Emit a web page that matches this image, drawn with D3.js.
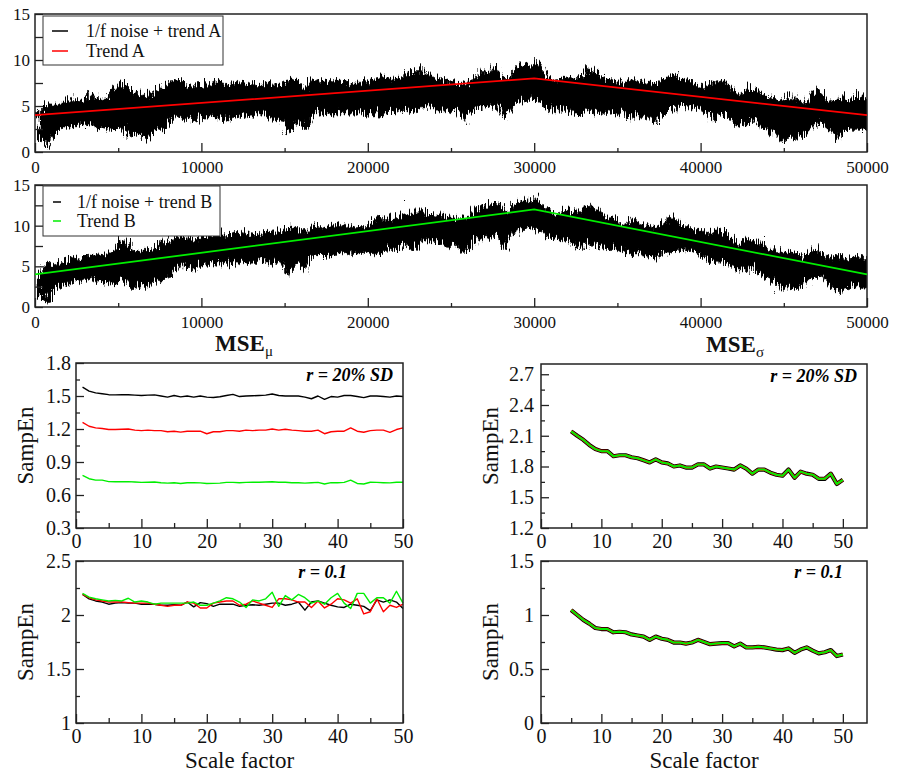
<!DOCTYPE html>
<html>
<head>
<meta charset="utf-8">
<script src="https://cdnjs.cloudflare.com/ajax/libs/d3/7.8.5/d3.min.js"></script>
<style>
  body { margin: 0; background: #fff; }
  svg text { font-family: "Liberation Serif", "Times New Roman", serif; }
</style>
</head>
<body>
<svg id="chart" width="900" height="773"></svg>
<script>
// ---- data ----

// trend breakpoints (time index, value)
var trendT = [0, 30000, 50000];
var trendAVals = [4, 8, 4];
var trendBVals = [4, 12, 4];

// 1/f noise, drawn as its envelope around the trend, sampled every 500 points
var noiseT = d3.range(0, 50001, 500);
var noiseHi = [
  0.8, 1.6, 1.5, 1.6, 2.1, 1.7, 2.2, 1.9, 1.9, 2.5,
  3.3, 2.4, 1.9, 1.7, 2.0, 2.5, 2.8, 3.1, 2.3, 2.4,
  2.3, 2.8, 2.5, 2.3, 2.6, 2.2, 1.9, 2.0, 2.0, 1.7,
  2.2, 2.3, 1.3, 2.2, 1.7, 1.9, 2.0, 1.5, 1.3, 1.2,
  1.7, 2.0, 1.6, 1.7, 1.8, 2.3, 2.2, 1.6, 1.4, 0.9,
  0.6, 0.4, 0.7, 1.9, 1.7, 2.0, 0.6, 1.5, 1.8, 1.9,
  2.0, 0.8, 0.4, 1.0, 1.0, 1.2, 2.1, 1.8, 1.2, 1.1,
  0.8, 1.5, 1.4, 1.3, 1.2, 2.0, 2.7, 2.2, 2.0, 1.7,
  1.6, 2.1, 2.4, 1.9, 1.0, 1.6, 1.9, 1.4, 1.2, 1.1,
  1.4, 1.3, 0.9, 2.4, 2.3, 1.5, 2.2, 1.7, 2.2, 2.5, 1.8
];
var noiseLo = [
  -2.2, -3.1, -1.6, -1.1, -1.0, -1.0, -0.9, -1.5, -1.4, -1.9,
  -1.4, -2.7, -2.4, -3.2, -2.0, -2.3, -1.2, -0.9, -1.2, -1.4,
  -1.0, -1.0, -1.5, -1.5, -1.4, -1.3, -1.5, -1.4, -2.0, -1.9,
  -3.6, -2.2, -3.2, -1.6, -1.7, -2.0, -1.8, -1.9, -2.0, -2.0,
  -2.3, -2.4, -1.9, -2.1, -1.8, -2.4, -1.6, -1.8, -2.1, -2.5,
  -2.4, -3.7, -2.9, -2.2, -2.3, -2.0, -3.7, -2.2, -1.9, -1.6,
  -2.0, -2.8, -2.9, -2.6, -2.9, -3.3, -2.5, -2.6, -2.6, -2.4,
  -2.4, -2.9, -2.4, -2.5, -2.9, -1.9, -1.5, -0.8, -0.9, -1.0,
  -1.3, -2.1, -1.2, -1.7, -2.3, -2.0, -1.6, -2.2, -2.6, -3.6,
  -3.0, -3.1, -2.4, -1.4, -0.8, -1.9, -2.7, -1.7, -1.3, -1.2, -1.3
];

// MSE_mu, scale factors 1..50
var scaleMu = d3.range(1, 51);
var muBlack20 = [
  1.58, 1.545, 1.528, 1.52, 1.512, 1.51, 1.512, 1.512, 1.508, 1.505,
  1.508, 1.51, 1.5, 1.49, 1.505, 1.492, 1.5, 1.49, 1.5, 1.49,
  1.487, 1.493, 1.505, 1.515, 1.495, 1.5, 1.502, 1.505, 1.508, 1.518,
  1.505, 1.5, 1.5, 1.5, 1.49, 1.475, 1.5, 1.47, 1.495, 1.49,
  1.505, 1.505, 1.495, 1.485, 1.5, 1.5, 1.495, 1.49, 1.5, 1.495
];
var muRed20 = [
  1.26, 1.225, 1.21, 1.205, 1.195, 1.195, 1.198, 1.2, 1.19, 1.185,
  1.19, 1.185, 1.185, 1.175, 1.18, 1.172, 1.18, 1.18, 1.18, 1.157,
  1.175, 1.175, 1.185, 1.185, 1.18, 1.19, 1.185, 1.19, 1.19, 1.2,
  1.19, 1.198, 1.19, 1.185, 1.18, 1.18, 1.19, 1.157, 1.175, 1.18,
  1.18, 1.21, 1.18, 1.17, 1.185, 1.19, 1.19, 1.17, 1.195, 1.21
];
var muGreen20 = [
  0.778, 0.748, 0.735, 0.735, 0.722, 0.72, 0.72, 0.722, 0.718, 0.715,
  0.716, 0.718, 0.712, 0.708, 0.712, 0.705, 0.712, 0.712, 0.71, 0.704,
  0.706, 0.708, 0.715, 0.715, 0.712, 0.715, 0.716, 0.716, 0.718, 0.72,
  0.716, 0.716, 0.712, 0.712, 0.708, 0.712, 0.715, 0.7, 0.712, 0.712,
  0.715, 0.735, 0.705, 0.7, 0.716, 0.715, 0.712, 0.71, 0.716, 0.716
];
var muBlack01 = [
  2.19, 2.15, 2.13, 2.12, 2.10, 2.11, 2.115, 2.11, 2.11, 2.10,
  2.10, 2.10, 2.09, 2.09, 2.095, 2.09, 2.12, 2.075, 2.115, 2.105,
  2.08, 2.10, 2.10, 2.10, 2.08, 2.09, 2.095, 2.09, 2.10, 2.11,
  2.11, 2.09, 2.10, 2.12, 2.045, 2.12, 2.13, 2.11, 2.09, 2.075,
  2.07, 2.10, 2.09, 2.08, 2.04, 2.14, 2.12, 2.14, 2.12, 2.06
];
var muRed01 = [
  2.19, 2.16, 2.14, 2.13, 2.12, 2.12, 2.12, 2.115, 2.11, 2.11,
  2.11, 2.10, 2.09, 2.08, 2.09, 2.09, 2.12, 2.11, 2.065, 2.065,
  2.11, 2.12, 2.13, 2.13, 2.09, 2.10, 2.13, 2.11, 2.09, 2.07,
  2.15, 2.15, 2.14, 2.12, 2.12, 2.07, 2.13, 2.065, 2.10, 2.15,
  2.14, 2.11, 2.15, 2.01, 2.03, 2.15, 2.03, 2.09, 2.07, 2.10
];
var muGreen01 = [
  2.20, 2.165, 2.15, 2.14, 2.13, 2.135, 2.13, 2.155, 2.12, 2.13,
  2.12, 2.10, 2.11, 2.11, 2.11, 2.11, 2.11, 2.12, 2.09, 2.09,
  2.11, 2.13, 2.16, 2.15, 2.12, 2.07, 2.14, 2.13, 2.15, 2.21,
  2.08, 2.18, 2.14, 2.19, 2.16, 2.11, 2.13, 2.10, 2.16, 2.20,
  2.11, 2.06, 2.20, 2.20, 2.11, 2.16, 2.16, 2.11, 2.22, 2.11
];

// MSE_sigma, scale factors 5..50 (the three curves lie on top of each other)
var scaleSig = d3.range(5, 51);
var sig20 = [
  2.143, 2.10, 2.06, 2.01, 1.97, 1.95, 1.95, 1.90, 1.91, 1.91,
  1.89, 1.88, 1.86, 1.84, 1.87, 1.84, 1.83, 1.80, 1.81, 1.79,
  1.79, 1.82, 1.82, 1.78, 1.80, 1.79, 1.78, 1.77, 1.81, 1.78,
  1.73, 1.77, 1.77, 1.74, 1.72, 1.71, 1.77, 1.69, 1.75, 1.73,
  1.72, 1.68, 1.68, 1.73, 1.63, 1.67
];
var sig01 = [
  1.046, 1.0, 0.955, 0.92, 0.88, 0.87, 0.87, 0.84, 0.845, 0.84,
  0.82, 0.81, 0.80, 0.77, 0.80, 0.78, 0.77, 0.745, 0.745, 0.735,
  0.745, 0.77, 0.75, 0.73, 0.735, 0.74, 0.74, 0.71, 0.735, 0.70,
  0.70, 0.705, 0.70, 0.69, 0.68, 0.675, 0.69, 0.65, 0.68, 0.70,
  0.67, 0.645, 0.655, 0.675, 0.62, 0.635
];

// tick labels
var xTicksSignal = [0, 10000, 20000, 30000, 40000, 50000];
var yTicksSignal = [0, 5, 10, 15];
var xTicksScale = [0, 10, 20, 30, 40, 50];
var yTicksMu20 = [0.3, 0.6, 0.9, 1.2, 1.5, 1.8];
var yTicksMu01 = [1, 1.5, 2, 2.5];
var yTicksSig20 = [1.2, 1.5, 1.8, 2.1, 2.4, 2.7];
var yTicksSig01 = [0, 0.5, 1, 1.5];

var RED = "#ff0000", GREEN = "#00ee00";
var FONT = '"Liberation Serif", "Times New Roman", serif';

var svg = d3.select("#chart");

// rough edge texture for the dense noise band (purely visual)
var defs = svg.append("defs");
var flt = defs.append("filter").attr("id", "grain")
  .attr("filterUnits", "userSpaceOnUse")
  .attr("x", 0).attr("y", 0).attr("width", 900).attr("height", 330);
flt.append("feTurbulence").attr("type", "turbulence")
  .attr("baseFrequency", "0.7 0.04").attr("numOctaves", 2).attr("seed", 3)
  .attr("result", "tex");
flt.append("feDisplacementMap").attr("in", "SourceGraphic").attr("in2", "tex")
  .attr("scale", 16).attr("xChannelSelector", "R").attr("yChannelSelector", "G");

function drawPanel(c) {
  var x = d3.scaleLinear().domain(c.xDomain).range([c.left, c.right]);
  var y = d3.scaleLinear().domain(c.yDomain).range([c.bottom, c.top]);
  var g = svg.append("g");
  var ax = g.append("g").attr("class", "axes");

  ax.append("g").attr("transform", "translate(0," + c.bottom + ")")
    .call(d3.axisBottom(x).tickValues(c.xMinor).tickSize(-c.xMinorLen).tickFormat(""));
  ax.append("g").attr("transform", "translate(0," + c.bottom + ")")
    .call(d3.axisBottom(x).tickValues(c.xTicks).tickSize(-c.xMajorLen)
      .tickPadding(c.xPad).tickFormat(function(d) { return String(d); }));
  ax.append("g").attr("transform", "translate(" + c.left + ",0)")
    .call(d3.axisLeft(y).tickValues(c.yMinor).tickSize(-c.yMinorLen).tickFormat(""));
  ax.append("g").attr("transform", "translate(" + c.left + ",0)")
    .call(d3.axisLeft(y).tickValues(c.yTicks).tickSize(-c.yMajorLen)
      .tickPadding(c.yPad).tickFormat(function(d) { return String(d); }));

  ax.selectAll(".domain").remove();
  ax.selectAll(".tick line").attr("stroke", "#222").attr("stroke-width", 1.3);
  ax.selectAll("text").style("font-family", FONT).style("font-size", c.fontSize + "px")
    .attr("fill", "#111");

  g.append("rect")
    .attr("x", c.left).attr("y", c.top)
    .attr("width", c.right - c.left).attr("height", c.bottom - c.top)
    .attr("fill", "none").attr("stroke", "#222").attr("stroke-width", 1.5);

  return { x: x, y: y, g: g };
}

// ---------- signal panels ----------
function signalPanel(top, bottom, trendVals, trendColor, legendCfg) {
  var p = drawPanel({
    left: 35, right: 867, top: top, bottom: bottom,
    xDomain: [0, 50000], yDomain: [0, 15],
    xTicks: xTicksSignal, xMinor: d3.range(5000, 50000, 10000),
    yTicks: yTicksSignal, yMinor: [2.5, 7.5, 12.5],
    xMajorLen: 9, xMinorLen: 4, yMajorLen: 8, yMinorLen: 8,
    xPad: 9, yPad: 5, fontSize: 17
  });
  var trend = d3.scaleLinear().domain(trendT).range(trendVals);
  var band = noiseT.map(function(t, i) {
    return { t: t, lo: trend(t) + noiseLo[i], hi: trend(t) + noiseHi[i] };
  });

  var area = d3.area()
    .x(function(d) { return p.x(d.t); })
    .y0(function(d) { return p.y(d.lo); })
    .y1(function(d) { return p.y(d.hi); });
  var clipId = "clip" + top;
  defs.append("clipPath").attr("id", clipId).append("rect")
    .attr("x", 35).attr("y", top).attr("width", 832).attr("height", bottom - top);
  p.g.insert("g", ".axes")
    .attr("clip-path", "url(#" + clipId + ")")
    .append("path")
    .datum(band)
    .attr("d", area)
    .attr("filter", "url(#grain)")
    .attr("fill", "#000").attr("stroke", "#000").attr("stroke-width", 0.6);

  var line = d3.line()
    .x(function(d, i) { return p.x(trendT[i]); })
    .y(function(d) { return p.y(d); });
  p.g.append("path")
    .datum(trendVals)
    .attr("d", line)
    .attr("fill", "none").attr("stroke", trendColor).attr("stroke-width", 1.8);

  // legend
  var lg = p.g.append("g");
  lg.append("rect")
    .attr("x", 43).attr("y", legendCfg.boxTop)
    .attr("width", legendCfg.boxW).attr("height", legendCfg.boxH)
    .attr("fill", "#fff").attr("stroke", "#333").attr("stroke-width", 1);
  legendCfg.items.forEach(function(it, i) {
    var yy = legendCfg.rowY[i];
    lg.append("line")
      .attr("x1", legendCfg.lineX[0]).attr("x2", legendCfg.lineX[1])
      .attr("y1", yy).attr("y2", yy)
      .attr("stroke", it.color).attr("stroke-width", 1.5);
    lg.append("text")
      .attr("x", legendCfg.textX).attr("y", yy + 6)
      .attr("font-family", FONT).attr("font-size", 18).attr("fill", "#111")
      .text(it.label);
  });
}

signalPanel(14, 152, trendAVals, RED, {
  boxTop: 16, boxW: 180, boxH: 49, rowY: [31, 51], lineX: [52, 68], textX: 86,
  items: [{ label: "1/f noise + trend A", color: "#000" }, { label: "Trend A", color: RED }]
});
signalPanel(185, 307, trendBVals, GREEN, {
  boxTop: 186, boxW: 177, boxH: 50, rowY: [202, 221], lineX: [53, 61], textX: 77,
  items: [{ label: "1/f noise + trend B", color: "#000" }, { label: "Trend B", color: GREEN }]
});

// ---------- entropy panels ----------
function entropyPanel(c, series) {
  var p = drawPanel({
    left: c.left, right: c.right, top: c.top, bottom: c.bottom,
    xDomain: c.xDomain, yDomain: c.yDomain,
    xTicks: xTicksScale, xMinor: d3.range(5, 50, 10),
    yTicks: c.yTicks, yMinor: c.yMinor,
    xMajorLen: 9, xMinorLen: 5, yMajorLen: 8, yMinorLen: 4,
    xPad: 6, yPad: c.yPad, fontSize: 20
  });
  series.forEach(function(s) {
    var line = d3.line()
      .x(function(d, i) { return p.x(s.xs[i]); })
      .y(function(d) { return p.y(d); });
    p.g.insert("path", ".axes")
      .datum(s.values)
      .attr("d", line)
      .attr("fill", "none").attr("stroke", s.color)
      .attr("stroke-width", s.width).attr("stroke-linejoin", "round");
  });
  p.g.append("text")
    .attr("x", c.rX).attr("y", c.rY)
    .attr("text-anchor", "end")
    .attr("font-family", FONT).attr("font-size", 18)
    .attr("font-weight", "bold").attr("font-style", "italic")
    .text(c.rLabel);
  p.g.append("text")
    .attr("transform", "translate(" + c.ylabX + "," + ((c.top + c.bottom) / 2) + ") rotate(-90)")
    .attr("text-anchor", "middle")
    .attr("font-family", FONT).attr("font-size", 23).attr("fill", "#111")
    .text("SampEn");
  return p;
}

// MSE_mu, r = 20% SD
entropyPanel({
  left: 76, right: 403, top: 363, bottom: 528,
  xDomain: [0, 50], yDomain: [0.3, 1.8],
  yTicks: yTicksMu20, yMinor: [0.45, 0.75, 1.05, 1.35, 1.65], yPad: 5,
  rX: 393, rY: 381, rLabel: "r = 20% SD", ylabX: 33
}, [
  { xs: scaleMu, values: muBlack20, color: "#000", width: 1.4 },
  { xs: scaleMu, values: muRed20, color: RED, width: 1.4 },
  { xs: scaleMu, values: muGreen20, color: GREEN, width: 1.4 }
]);

// MSE_mu, r = 0.1
entropyPanel({
  left: 76, right: 403, top: 561, bottom: 723,
  xDomain: [0, 50], yDomain: [1, 2.5],
  yTicks: yTicksMu01, yMinor: [1.25, 1.75, 2.25], yPad: 5,
  rX: 347, rY: 578, rLabel: "r = 0.1", ylabX: 33
}, [
  { xs: scaleMu, values: muBlack01, color: "#000", width: 1.4 },
  { xs: scaleMu, values: muRed01, color: RED, width: 1.4 },
  { xs: scaleMu, values: muGreen01, color: GREEN, width: 1.4 }
]);

// MSE_sigma, r = 20% SD
entropyPanel({
  left: 541, right: 867, top: 364, bottom: 528,
  xDomain: [0, 54], yDomain: [1.2, 2.8],
  yTicks: yTicksSig20, yMinor: [1.35, 1.65, 1.95, 2.25, 2.55], yPad: 7,
  rX: 857, rY: 382, rLabel: "r = 20% SD", ylabX: 498
}, [
  { xs: scaleSig, values: sig20, color: "#000", width: 4.2 },
  { xs: scaleSig, values: sig20, color: RED, width: 2.6 },
  { xs: scaleSig, values: sig20, color: GREEN, width: 2 }
]);

// MSE_sigma, r = 0.1
entropyPanel({
  left: 541, right: 867, top: 561, bottom: 723,
  xDomain: [0, 54], yDomain: [0, 1.5],
  yTicks: yTicksSig01, yMinor: [0.25, 0.75, 1.25], yPad: 7,
  rX: 843, rY: 578, rLabel: "r = 0.1", ylabX: 498
}, [
  { xs: scaleSig, values: sig01, color: "#000", width: 4.2 },
  { xs: scaleSig, values: sig01, color: RED, width: 2.6 },
  { xs: scaleSig, values: sig01, color: GREEN, width: 2 }
]);

// column titles
function title(cx, base, sub) {
  var t = svg.append("text")
    .attr("x", cx).attr("y", base)
    .attr("text-anchor", "middle")
    .attr("font-family", FONT).attr("font-size", 23).attr("font-weight", "bold")
    .attr("fill", "#111");
  t.append("tspan").text("MSE");
  t.append("tspan").attr("font-size", 15).attr("font-weight", "normal")
    .attr("dy", 5).text(sub);
}
title(244, 351, "\u03bc");
title(735, 352, "\u03c3");

// x-axis titles
[239.5, 704].forEach(function(cx) {
  svg.append("text")
    .attr("x", cx).attr("y", 768)
    .attr("text-anchor", "middle")
    .attr("font-family", FONT).attr("font-size", 23).attr("fill", "#111")
    .text("Scale factor");
});
</script>
</body>
</html>
